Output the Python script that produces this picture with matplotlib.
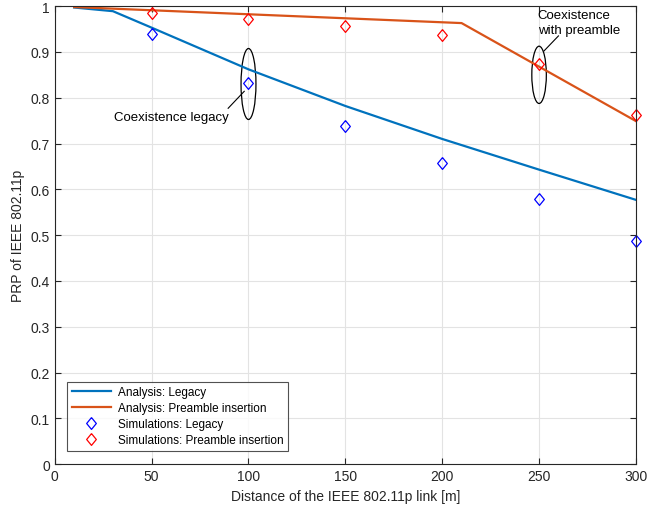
import numpy as np
import matplotlib.pyplot as plt
from matplotlib.patches import Ellipse

plt.rcParams['font.family'] = ['Liberation Sans', 'DejaVu Sans']

# analytical curves
d_legacy = [10, 30, 50, 100, 150, 200, 250, 300]
prp_legacy = [0.997, 0.989, 0.953, 0.862, 0.782, 0.710, 0.643, 0.577]
d_preamble = [10, 210, 300]
prp_preamble = [0.998, 0.963, 0.749]

# simulation points
d_sim = [50, 100, 150, 200, 250, 300]
sim_legacy = [0.940, 0.832, 0.739, 0.657, 0.578, 0.488]
sim_preamble = [0.986, 0.972, 0.957, 0.938, 0.874, 0.762]

blue = (0, 0.447, 0.741)
orange = (0.85, 0.325, 0.098)
diamond = [(0, 1), (0.82, 0), (0, -1), (-0.82, 0), (0, 1)]

fig = plt.figure(figsize=(6.68, 5.10), dpi=100)
ax = fig.add_axes([0.082, 0.088, 0.870, 0.898])

ax.plot(d_legacy, prp_legacy, color=blue, lw=1.6, label='Analysis: Legacy')
ax.plot(d_preamble, prp_preamble, color=orange, lw=1.6, label='Analysis: Preamble insertion')
ax.plot(d_sim, sim_legacy, ls='none', marker=diamond, mfc='none', mec='b', ms=8.5,
        mew=0.9, clip_on=False, label='Simulations: Legacy')
ax.plot(d_sim, sim_preamble, ls='none', marker=diamond, mfc='none', mec='r', ms=8.5,
        mew=0.9, clip_on=False, label='Simulations: Preamble insertion')

# annotation ellipses
ax.add_patch(Ellipse((100, 0.83), 7.7, 0.155, fill=False, ec='k', lw=0.9))
ax.plot([97.8, 89.5], [0.814, 0.777], color='k', lw=0.8)
ax.text(60, 0.757, 'Coexistence legacy', ha='center', va='center', fontsize=9.5)

ax.add_patch(Ellipse((250, 0.85), 7.5, 0.125, fill=False, ec='k', lw=0.9))
ax.plot([252.5, 260], [0.902, 0.935], color='k', lw=0.8)
ax.text(249.3, 0.993, 'Coexistence\nwith preamble', ha='left', va='top', fontsize=9.5,
        linespacing=1.25)

ax.set_xlim(0, 300)
ax.set_ylim(0, 1)
ax.set_xticks(np.arange(0, 301, 50))
ax.set_yticks(np.arange(0, 1.01, 0.1))
ax.set_yticklabels(['0', '0.1', '0.2', '0.3', '0.4', '0.5', '0.6', '0.7', '0.8', '0.9', '1'])
ax.grid(True, color='#e3e3e3', lw=0.8)
ax.set_axisbelow(True)
ax.tick_params(direction='in', top=True, right=True, labelsize=10, colors='#262626',
               length=4)
for s in ax.spines.values():
    s.set_color('#262626')
    s.set_linewidth(0.8)

ax.set_xlabel('Distance of the IEEE 802.11p link [m]', fontsize=10, color='#262626')
ax.set_ylabel('PRP of IEEE 802.11p', fontsize=10, color='#262626')

leg = ax.legend(loc='lower left', bbox_to_anchor=(0.015, 0.022), fontsize=8.5,
                frameon=True, fancybox=False, edgecolor='#262626', handlelength=3.3,
                handletextpad=0.6, borderpad=0.4, labelspacing=0.32, borderaxespad=0.3)
leg.get_frame().set_linewidth(0.8)

fig.savefig('out.png', dpi=100)
